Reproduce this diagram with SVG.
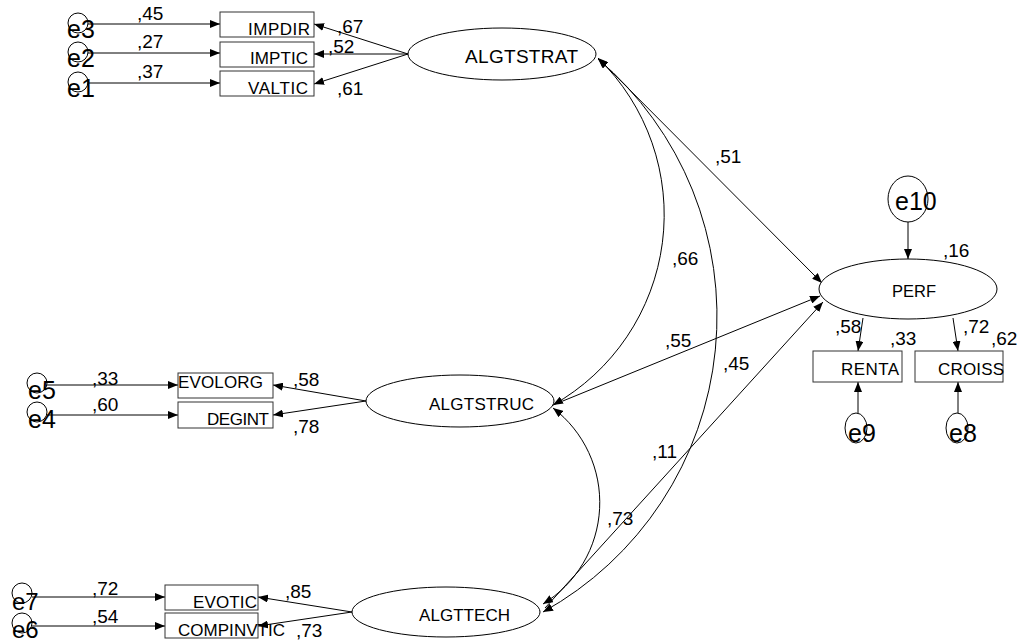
<svg xmlns="http://www.w3.org/2000/svg" width="1018" height="642" viewBox="0 0 1018 642">
<defs>
<marker id="ah" markerUnits="userSpaceOnUse" markerWidth="10" markerHeight="8" refX="10" refY="4" orient="auto-start-reverse" viewBox="0 0 10 8">
<path d="M0,0 L10,4 L0,8 z" fill="#000"/>
</marker>
<style>
.ln{stroke:#000;stroke-width:1;fill:none}
.ar{stroke:#000;stroke-width:1;fill:none;marker-end:url(#ah)}
.dbl{stroke:#000;stroke-width:1;fill:none;marker-start:url(#ah);marker-end:url(#ah)}
.box{fill:#fff;stroke:#333;stroke-width:1}
.ell{fill:#fff;stroke:#000;stroke-width:1}
.err{fill:none;stroke:#000;stroke-width:1}
text{font-family:"Liberation Sans",Arial,sans-serif;fill:#000}
.lb{font-size:19px}
.bt{font-size:17px}
.et{font-size:25px}
</style>
</defs>
<rect width="1018" height="642" fill="#fff"/>

<g id="connectors">
<line class="ar" x1="88" y1="24" x2="220" y2="24"/>
<line class="ar" x1="88" y1="53" x2="220" y2="53"/>
<line class="ar" x1="88" y1="83" x2="220" y2="83"/>
<line class="ar" x1="408" y1="54" x2="314" y2="24"/>
<line class="ar" x1="408" y1="54" x2="314" y2="54"/>
<line class="ar" x1="408" y1="54" x2="314" y2="84"/>
<line class="ar" x1="47" y1="385" x2="178" y2="385"/>
<line class="ar" x1="47" y1="415" x2="178" y2="415"/>
<line class="ar" x1="366" y1="401" x2="273" y2="385"/>
<line class="ar" x1="366" y1="401" x2="273" y2="415"/>
<line class="ar" x1="32" y1="597" x2="165" y2="597"/>
<line class="ar" x1="32" y1="626" x2="165" y2="626"/>
<line class="ar" x1="352" y1="612" x2="258" y2="597"/>
<line class="ar" x1="352" y1="612" x2="258" y2="626"/>
<line class="ar" x1="598" y1="58" x2="822" y2="283"/>
<line class="ar" x1="553" y1="405" x2="820" y2="296"/>
<line class="ar" x1="545" y1="608" x2="823" y2="302"/>
<path class="dbl" d="M598,58 A218.5,218.5 0 0 1 553,405"/>
<path class="dbl" d="M598,59 A338,338 0 0 1 543,612"/>
<path class="dbl" d="M553,408 A119,119 0 0 1 543,604"/>
<line class="ar" x1="908" y1="222" x2="908" y2="259"/>
<line class="ar" x1="863" y1="318" x2="858" y2="351"/>
<line class="ar" x1="953" y1="318" x2="958" y2="351"/>
<line class="ar" x1="858" y1="413" x2="858" y2="382"/>
<line class="ar" x1="958" y1="413" x2="958" y2="382"/>
</g>

<g id="e3"><circle class="err" cx="78" cy="23" r="10"/><text class="et" x="67" y="38">e3</text></g>
<g id="e2"><circle class="err" cx="78" cy="52" r="10"/><text class="et" x="67" y="67">e2</text></g>
<g id="e1"><circle class="err" cx="78" cy="82" r="10"/><text class="et" x="67" y="97">e1</text></g>
<g id="e5"><circle class="err" cx="37" cy="383" r="10"/><text class="et" x="28" y="399">e5</text></g>
<g id="e4"><circle class="err" cx="37" cy="412" r="10"/><text class="et" x="28" y="428">e4</text></g>
<g id="e7"><circle class="err" cx="22" cy="593" r="10"/><text x="12" y="610" font-size="24">e7</text></g>
<g id="e6"><circle class="err" cx="22" cy="623" r="10"/><text x="12" y="638" font-size="24">e6</text></g>
<g id="e10"><ellipse class="err" cx="908" cy="199" rx="20" ry="23"/><text class="et" x="895" y="210">e10</text></g>
<g id="e9"><ellipse class="err" cx="856" cy="428" rx="11" ry="15"/><text class="et" x="848" y="442">e9</text></g>
<g id="e8"><ellipse class="err" cx="957" cy="428" rx="11" ry="15"/><text class="et" x="949" y="442">e8</text></g>

<g id="IMPDIR"><rect class="box" x="220" y="12" width="94" height="25"/><text class="bt" x="248" y="35" textLength="62">IMPDIR</text></g>
<g id="IMPTIC"><rect class="box" x="220" y="42" width="94" height="25"/><text class="bt" x="250" y="64" textLength="58">IMPTIC</text></g>
<g id="VALTIC"><rect class="box" x="220" y="71" width="94" height="25"/><text class="bt" x="248" y="94" textLength="60">VALTIC</text></g>
<g id="EVOLORG"><rect class="box" x="178" y="373" width="95" height="25"/><text class="bt" x="178" y="388" textLength="85">EVOLORG</text></g>
<g id="DEGINT"><rect class="box" x="178" y="402" width="95" height="26"/><text class="bt" x="207" y="425" textLength="62">DEGINT</text></g>
<g id="EVOTIC"><rect class="box" x="165" y="585" width="93" height="25"/><text class="bt" x="193" y="608" textLength="64">EVOTIC</text></g>
<g id="COMPINVTIC"><rect class="box" x="165" y="613" width="93" height="25"/><text class="bt" x="178" y="636" textLength="107">COMPINVTIC</text></g>
<g id="RENTA"><rect class="box" x="813" y="351" width="89" height="31"/><text class="bt" x="841" y="375" textLength="58">RENTA</text></g>
<g id="CROISS"><rect class="box" x="915" y="351" width="88" height="31"/><text class="bt" x="938" y="375" textLength="66">CROISS</text></g>

<g id="ALGTSTRAT"><ellipse class="ell" cx="502" cy="54" rx="94" ry="26"/><text x="465" y="63" font-size="19" textLength="113">ALGTSTRAT</text></g>
<g id="ALGTSTRUC"><ellipse class="ell" cx="460" cy="401" rx="94" ry="26"/><text x="429" y="410" font-size="17" textLength="105">ALGTSTRUC</text></g>
<g id="ALGTTECH"><ellipse class="ell" cx="446" cy="612" rx="94" ry="25"/><text x="419" y="621" font-size="17" textLength="91">ALGTTECH</text></g>
<g id="PERF"><ellipse class="ell" cx="908" cy="289" rx="89" ry="30"/><text x="892" y="297" font-size="16.5">PERF</text></g>

<g id="labels" class="lb">
<text x="137" y="20">,45</text>
<text x="137" y="48">,27</text>
<text x="137" y="78">,37</text>
<text x="337" y="33">,67</text>
<text x="328" y="53">,52</text>
<text x="337" y="95">,61</text>
<text x="92" y="385">,33</text>
<text x="92" y="411">,60</text>
<text x="293" y="386">,58</text>
<text x="293" y="433">,78</text>
<text x="92" y="595">,72</text>
<text x="92" y="623">,54</text>
<text x="285" y="598">,85</text>
<text x="296" y="637">,73</text>
<text x="715" y="163">,51</text>
<text x="672" y="265">,66</text>
<text x="665" y="347">,55</text>
<text x="723" y="370">,45</text>
<text x="652" y="458">,11</text>
<text x="607" y="525">,73</text>
<text x="943" y="257">,16</text>
<text x="835" y="333">,58</text>
<text x="890" y="345">,33</text>
<text x="963" y="333">,72</text>
<text x="991" y="345">,62</text>
</g>
</svg>
